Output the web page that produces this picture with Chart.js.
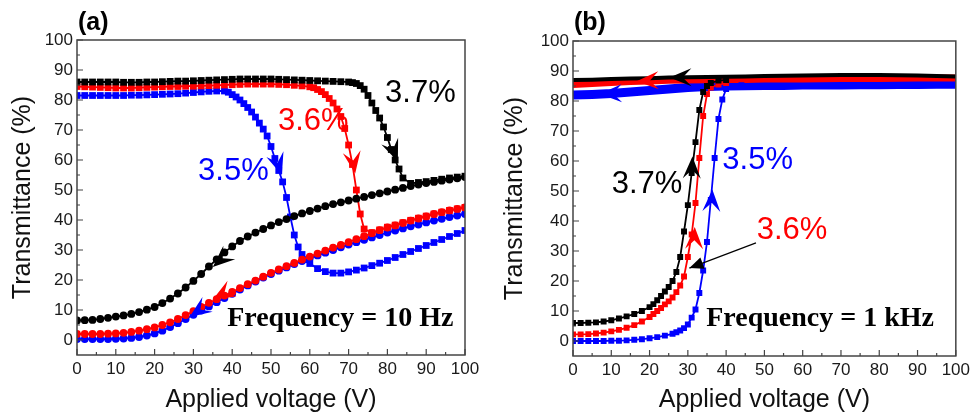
<!DOCTYPE html>
<html>
<head>
<meta charset="utf-8">
<script src="https://cdn.jsdelivr.net/npm/chart.js@4.4.1/dist/chart.umd.min.js"></script>
<style>
  body { margin: 0; background: #fff; }
  .panel { position: absolute; top: 0; width: 487px; height: 420px; }
</style>
</head>
<body>
<div class="panel" style="left:0"><canvas id="chartA" width="487" height="420"></canvas></div>
<div class="panel" style="left:487px"><canvas id="chartB" width="487" height="420"></canvas></div>
<script>
const xTicks = [0, 10, 20, 30, 40, 50, 60, 70, 80, 90, 100];
const yTicks = [0, 10, 20, 30, 40, 50, 60, 70, 80, 90, 100];

// (a) Frequency = 10 Hz : up sweeps (squares) and down sweeps (circles)
const aBlackUpV = [0,2,4,6,8,10,12,14,16,18,20,22,24,26,28,30,32,34,36,38,40,42,44,46,48,50,52,54,56,58,60,62,64,66,68,70,
  71,72,73,74,75,76,77,78,79,80,81,82,83,84,86,88,90,92,94,96,98,100];
const aBlackUpT = [86,86,86,86,86,86,85.9,85.9,85.9,86,86,86.1,86.2,86.3,86.3,86.4,86.5,86.6,86.7,86.8,86.9,87,87,87,87,87,
  86.9,86.8,86.7,86.6,86.5,86.4,86.3,86.2,86.1,86,
  85.8,85.5,84.8,83.6,81.5,79,76.5,74,71,67.5,63.5,60,57,54,52.2,52.5,52.8,53.2,53.6,54,54.3,54.6];
const aBlackDownV = [100,98,96,94,92,90,88,86,84,82,80,78,76,74,72,70,68,66,64,62,60,58,56,54,52,50,48,46,44,42,40,
  38,36,34,32,30,28,26,24,22,20,18,16,14,12,10,8,6,4,2,0];
const aBlackDownT = [54.3,53.9,53.5,53.1,52.7,52.3,51.8,51.3,50.7,50.1,49.5,48.9,48.3,47.7,47.1,46.5,45.9,45.3,44.6,43.8,
  43,42.2,41.3,40.3,39.3,38.2,37,35.8,34.5,33,31.2,29.2,26.9,24.5,22,19.7,17.5,15.5,13.8,12.3,11,10.1,9.3,8.7,8.2,
  7.8,7.4,7,6.7,6.6,6.5];

const aRedUpV = [0,2,4,6,8,10,12,14,16,18,20,22,24,26,28,30,32,34,36,38,40,42,44,46,48,50,52,54,56,58,60,
  61,62,63,64,65,66,67,68,69,70,71,72,73,74,76,78,80,82,84,86,88,90,92,94,96,98,100];
const aRedUpT = [84.5,84.4,84.3,84.2,84.1,84,84,84,84.1,84.2,84.3,84.4,84.5,84.5,84.6,84.6,84.7,84.8,84.9,85,85.1,85.2,
  85.3,85.3,85.3,85.3,85.2,85.1,84.9,84.7,84.4,
  84.1,83.5,82.8,81.8,80.5,79,77,74.5,70.5,65,58.5,50,42,37,35.8,36.7,37.6,38.3,39.1,39.9,40.6,41.3,42,42.6,43.2,43.7,44.2];
const aRedDownV = aBlackDownV;
const aRedDownT = [44.2,43.7,43.2,42.6,42,41.2,40.5,39.8,39,38.2,37.5,36.6,35.6,34.6,33.6,32.6,31.7,30.8,29.8,28.8,27.8,
  26.8,25.7,24.6,23.5,22.4,21.1,19.8,18.6,17.3,16,14.8,13.6,12.4,11,9.6,8.3,7,5.9,5,4.2,3.6,3.1,2.7,2.4,2.2,2.1,2,2,2,2];

const aBlueUpV = [0,2,4,6,8,10,12,14,16,18,20,22,24,26,28,30,32,34,36,38,
  39,40,41,42,43,44,45,46,47,48,49,50,51,52,53,54,55,56,57,58,59,60,
  62,64,66,68,70,72,74,76,78,80,82,84,86,88,90,92,94,96,98,100];
const aBlueUpT = [81.5,81.5,81.5,81.5,81.5,81.5,81.5,81.6,81.6,81.7,81.8,81.9,82,82.1,82.3,82.5,82.7,82.9,83,83,
  82.6,81.8,81,80,78.8,77.5,76,74.3,72.3,70.3,68,64.5,60.5,56.5,52.7,47.5,41,35,31,28.5,26.8,25.5,
  23.8,22.8,22.3,22.3,22.7,23.3,24,24.8,25.6,26.5,27.5,28.5,29.5,30.5,31.5,32.5,33.5,34.5,35.5,36.5];
const aBlueDownV = aBlackDownV;
const aBlueDownT = [42,41.5,41,40.4,39.8,39.2,38.5,37.9,37.2,36.5,35.8,35,34.2,33.4,32.6,31.8,30.9,30,29.1,28.2,27.3,
  26.3,25.3,24.2,23.1,22,20.8,19.5,18.2,16.8,15.4,14,12.6,11.2,9.8,8.4,7,5.6,4.3,3.1,2.2,1.5,1,0.7,0.5,0.4,0.3,0.3,0.3,0.3,0.3];

// (b) Frequency = 1 kHz
const bBlackUpV = [0,2,4,6,8,10,12,14,16,18,20,21,22,23,24,25,26,27,28,29,30,31,32,33,34,35,36,38,40];
const bBlackUpT = [6,6,6.1,6.2,6.5,6.9,7.5,8.2,9,10,11.3,12.3,13.6,15,16.5,18,20,23,28,36.5,45.3,56,66.3,77,83,85,86,86.8,87];
const bRedUpV = bBlackUpV;
const bRedUpT = [2.2,2.2,2.3,2.5,2.8,3.2,3.7,4.4,5.3,6.5,8,9,10,11,12.2,13.2,14.5,16.3,18.5,21.5,28,35.5,46,61,75,82.3,84.5,85.5,86];
const bBlueUpV = [0,2,4,6,8,10,12,14,16,18,20,22,24,26,27,28,29,30,31,32,33,34,35,36,37,38,39,40,42,44];
const bBlueUpT = [0,0,0,0,0,0.1,0.1,0.2,0.4,0.6,0.9,1.3,1.8,2.4,2.9,3.5,4.3,5.5,7.8,10.5,16,23.5,33,47,61,74,80.5,84,85,85.3];
const bDownV = [100,95,90,85,80,75,70,65,60,55,50,45,40,35,30,25,20,15,10,5,0];
const bBlackDownT = [88.2,88.3,88.5,88.6,88.7,88.7,88.7,88.6,88.5,88.4,88.3,88.2,88.1,88,87.9,87.8,87.6,87.5,87.3,87.1,87];
const bRedDownT = [87.7,87.7,87.7,87.6,87.5,87.5,87.5,87.4,87.3,87.3,87.3,87.2,87.2,87.1,87,86.9,86.7,86.5,86.2,85.8,85.5];
const bBlueDownT = [85.6,85.6,85.5,85.5,85.4,85.4,85.3,85.3,85.3,85.2,85.2,85.1,85,84.8,84.5,84,83.5,83,82.5,82.2,82];

const BLACK = '#000000', RED = '#ff0000', BLUE = '#0000ff';
const SANS = "'Liberation Sans', Arial, sans-serif";
const SERIF = "'Liberation Serif', 'Times New Roman', serif";

const pts = (vs, ts) => vs.map((v, i) => ({ x: v, y: ts[i] }));

function sweep(label, vs, ts, color, style, r, extra) {
  return Object.assign({
    label: label,
    data: pts(vs, ts),
    borderColor: color,
    backgroundColor: color,
    borderWidth: 1.8,
    pointStyle: style,
    pointRadius: r,
    pointBorderWidth: 0,
    showLine: true,
    tension: 0
  }, extra || {});
}

// arrow head with notch, pointing from (x0,y0) towards tip (x1,y1)
function head(ctx, x0, y0, x1, y1, color, len, half) {
  const a = Math.atan2(y1 - y0, x1 - x0);
  ctx.save();
  ctx.translate(x1, y1);
  ctx.rotate(a);
  ctx.beginPath();
  ctx.moveTo(0, 0);
  ctx.lineTo(-len, -half);
  ctx.lineTo(-len * 0.6, 0);
  ctx.lineTo(-len, half);
  ctx.closePath();
  ctx.fillStyle = color;
  ctx.fill();
  ctx.restore();
}

const decor = {
  id: 'decor',
  afterDatasetsDraw(chart, args, o) {
    const { ctx, chartArea: ca, scales: { x, y } } = chart;
    ctx.save();
    // frame
    ctx.strokeStyle = '#444';
    ctx.lineWidth = 1.5;
    ctx.strokeRect(ca.left, ca.top, ca.right - ca.left, ca.bottom - ca.top);
    // inward ticks, minor halfway between majors
    ctx.lineWidth = 1.2;
    ctx.beginPath();
    xTicks.forEach((v, i) => {
      const px = x.getPixelForValue(v);
      ctx.moveTo(px, ca.bottom); ctx.lineTo(px, ca.bottom - 6);
      if (i < xTicks.length - 1) {
        const m = x.getPixelForValue((v + xTicks[i + 1]) / 2);
        ctx.moveTo(m, ca.bottom); ctx.lineTo(m, ca.bottom - 3);
      }
    });
    yTicks.forEach((v, i) => {
      const py = y.getPixelForValue(v);
      ctx.moveTo(ca.left, py); ctx.lineTo(ca.left + 6, py);
      if (i < yTicks.length - 1) {
        const m = y.getPixelForValue((v + yTicks[i + 1]) / 2);
        ctx.moveTo(ca.left, m); ctx.lineTo(ca.left + 3, m);
      }
    });
    ctx.stroke();

    // panel tag
    ctx.fillStyle = '#000';
    ctx.font = 'bold 25px ' + SANS;
    ctx.textAlign = 'left';
    ctx.textBaseline = 'middle';
    ctx.fillText(o.tag, ca.left + 1, 23);

    // curve labels
    o.texts.forEach(t => {
      ctx.font = t.font;
      ctx.fillStyle = t.color;
      ctx.fillText(t.text, x.getPixelForValue(t.at[0]), y.getPixelForValue(t.at[1]));
    });

    // direction arrows on the curves
    o.heads.forEach(h => {
      head(ctx, x.getPixelForValue(h.from[0]), y.getPixelForValue(h.from[1]),
        x.getPixelForValue(h.to[0]), y.getPixelForValue(h.to[1]), h.color, 22, 9);
    });

    // pointer line
    (o.pointers || []).forEach(p => {
      const x0 = x.getPixelForValue(p.from[0]), y0 = y.getPixelForValue(p.from[1]);
      const x1 = x.getPixelForValue(p.to[0]), y1 = y.getPixelForValue(p.to[1]);
      ctx.strokeStyle = '#000';
      ctx.lineWidth = 1.2;
      ctx.beginPath(); ctx.moveTo(x0, y0); ctx.lineTo(x1, y1); ctx.stroke();
      const a = Math.atan2(y1 - y0, x1 - x0);
      ctx.save();
      ctx.translate(x1, y1); ctx.rotate(a);
      ctx.beginPath(); ctx.moveTo(0, 0); ctx.lineTo(-14, -6); ctx.lineTo(-14, 6); ctx.closePath();
      ctx.fillStyle = '#000'; ctx.fill();
      ctx.restore();
    });
    ctx.restore();
  }
};

function scalesFor(yWidth, xHeight, yTitlePad) {
  return {
    x: {
      type: 'linear', min: 0, max: 100,
      afterBuildTicks: s => { s.ticks = xTicks.map(v => ({ value: v })); },
      afterFit: s => { s.height = xHeight; },
      grid: { display: false, drawTicks: false },
      border: { display: false },
      ticks: { font: { size: 17, family: SANS }, color: '#1a1a1a', padding: 4, maxRotation: 0, autoSkip: false },
      title: { display: true, text: 'Applied voltage (V)', font: { size: 25, family: SANS }, color: '#111', padding: { top: 0, bottom: 5 } }
    },
    y: {
      type: 'linear', min: -5, max: 100,
      afterBuildTicks: s => { s.ticks = yTicks.map(v => ({ value: v })); },
      afterFit: s => { s.width = yWidth; },
      grid: { display: false, drawTicks: false },
      border: { display: false },
      ticks: { font: { size: 17, family: SANS }, color: '#1a1a1a', padding: 4, autoSkip: false },
      title: { display: true, text: 'Transmittance (%)', font: { size: 25, family: SANS }, color: '#111', padding: { top: yTitlePad, bottom: 0 } }
    }
  };
}

const LABEL_FONT = '31px ' + SANS;
const FREQ_FONT = 'bold 28px ' + SERIF;

new Chart(document.getElementById('chartA'), {
  type: 'scatter',
  data: {
    datasets: [
      sweep('3.7% up', aBlackUpV, aBlackUpT, BLACK, 'rect', 4.8),
      sweep('3.7% down', aBlackDownV, aBlackDownT, BLACK, 'circle', 3.9),
      sweep('3.6% up', aRedUpV, aRedUpT, RED, 'rect', 4.8),
      sweep('3.6% down', aRedDownV, aRedDownT, RED, 'circle', 3.9),
      sweep('3.5% up', aBlueUpV, aBlueUpT, BLUE, 'rect', 4.8),
      sweep('3.5% down', aBlueDownV, aBlueDownT, BLUE, 'circle', 3.9)
    ]
  },
  options: {
    responsive: false,
    animation: false,
    events: [],
    layout: { padding: { left: 0, top: 40, right: 22, bottom: 0 } },
    scales: scalesFor(77, 65, 8),
    plugins: {
      legend: { display: false },
      tooltip: { enabled: false },
      decor: {
        tag: '(a)',
        texts: [
          { text: '3.7%', at: [79.4, 82.3], color: BLACK, font: LABEL_FONT },
          { text: '3.6%', at: [51.8, 73], color: RED, font: LABEL_FONT },
          { text: '3.5%', at: [31.2, 56.3], color: BLUE, font: LABEL_FONT },
          { text: 'Frequency = 10 Hz', at: [38.7, 7], color: BLACK, font: FREQ_FONT }
        ],
        heads: [
          { from: [80.7, 66], to: [82.7, 59.5], color: BLACK },
          { from: [70.9, 62], to: [71.7, 55.5], color: RED },
          { from: [51, 62], to: [52.8, 55], color: BLUE },
          { from: [40, 30], to: [35, 24.3], color: BLACK },
          { from: [40.5, 17.5], to: [35, 13.5], color: RED },
          { from: [33.8, 12], to: [29, 7.7], color: BLUE }
        ]
      }
    }
  },
  plugins: [decor]
});

new Chart(document.getElementById('chartB'), {
  type: 'scatter',
  data: {
    datasets: [
      sweep('3.7% up', bBlackUpV, bBlackUpT, BLACK, 'rect', 4.2),
      sweep('3.6% up', bRedUpV, bRedUpT, RED, 'rect', 4.2),
      sweep('3.5% up', bBlueUpV, bBlueUpT, BLUE, 'rect', 4.2),
      sweep('3.7% down', bDownV, bBlackDownT, BLACK, 'circle', 0, { borderWidth: 4 }),
      sweep('3.6% down', bDownV, bRedDownT, RED, 'circle', 0, { borderWidth: 7 }),
      sweep('3.5% down', bDownV, bBlueDownT, BLUE, 'circle', 0, { borderWidth: 9 })
    ]
  },
  options: {
    responsive: false,
    animation: false,
    events: [],
    layout: { padding: { left: 0, top: 41, right: 16, bottom: 0 } },
    scales: scalesFor(86, 64, 13),
    plugins: {
      legend: { display: false },
      tooltip: { enabled: false },
      decor: {
        tag: '(b)',
        texts: [
          { text: '3.7%', at: [10.1, 52.3], color: BLACK, font: LABEL_FONT },
          { text: '3.5%', at: [39, 60.3], color: BLUE, font: LABEL_FONT },
          { text: '3.6%', at: [48, 36.7], color: RED, font: LABEL_FONT },
          { text: 'Frequency = 1 kHz', at: [34.8, 7.3], color: BLACK, font: FREQ_FONT }
        ],
        heads: [
          { from: [31, 53], to: [31.2, 61.5], color: BLACK },
          { from: [31.6, 29], to: [31.8, 38], color: RED },
          { from: [36.1, 42], to: [36.4, 50.5], color: BLUE },
          { from: [31, 87.9], to: [25.2, 87.8], color: BLACK },
          { from: [22.5, 86.9], to: [16.6, 86.6], color: RED },
          { from: [13, 82.6], to: [7, 82.3], color: BLUE }
        ],
        pointers: [
          { from: [47.8, 32.7], to: [30.4, 24.3] }
        ]
      }
    }
  },
  plugins: [decor]
});
</script>
</body>
</html>
